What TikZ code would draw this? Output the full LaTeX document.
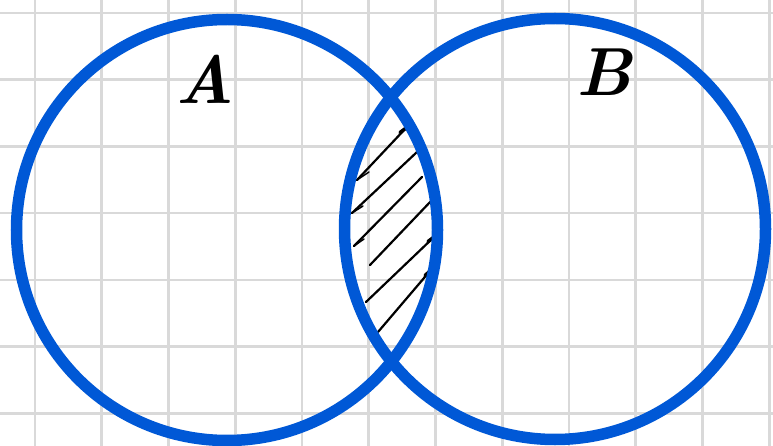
\documentclass[tikz,border=0pt]{standalone}
\usepackage{fontspec}
\definecolor{vennblue}{RGB}{0,88,214}
\definecolor{gridgray}{RGB}{217,217,217}
\begin{document}
\begin{tikzpicture}[x=1pt,y=-1pt,
  gridline/.style={draw=gridgray,line width=2.6pt},
  setcircle/.style={circle,draw=vennblue,line width=11.5pt,minimum size=421pt,inner sep=0pt},
  setlabel/.style={font=\fontsize{68}{68}\selectfont\bfseries\itshape,inner sep=0pt},
  hatch/.style={draw=black,line width=2.2pt,line cap=round},
  hook/.style={draw=black,line width=1.5pt,line cap=round}]
\useasboundingbox (0,0) rectangle (773,446);
\fill[white] (0,0) rectangle (773,446);
\foreach \i in {0,...,11} {
  \draw[gridline] ({35+66.75*\i},0) -- ({35+66.75*\i},446);
}
\foreach \j in {0,...,6} {
  \draw[gridline] (0,{13+66.7*\j}) -- (773,{13+66.7*\j});
}
% hatching of the intersection
\coordinate (h1a) at (357,180); \coordinate (h1b) at (406,128);
\coordinate (h2a) at (352,213); \coordinate (h2b) at (417,152);
\coordinate (h3a) at (354,246); \coordinate (h3b) at (422,177);
\coordinate (h4a) at (370,265); \coordinate (h4b) at (432,200);
\coordinate (h5a) at (366,302); \coordinate (h5b) at (434,237);
\coordinate (h6a) at (378,332); \coordinate (h6b) at (430,271);
\foreach \k in {1,...,6} {
  \draw[hatch] (h\k a) -- (h\k b);
}
\draw[hook] (h1a) -- ++(12,-8);
\draw[hook] (h2a) -- ++(11,-7);
\draw[hook] (h3a) -- ++(10,-7);
\draw[line width=3.5pt,line cap=round] (h1b) -- ++(-6,4.5);
\draw[line width=3.5pt,line cap=round] (h5b) -- ++(-6,4.5);
\draw[line width=3.5pt,line cap=round] (h6b) -- ++(-5,4.5);
% the two sets
\node[setcircle] (circA) at (227,230) {};
\node[setcircle] (circB) at (555,229) {};
\node[setlabel] (labA) at (205,79) {A};
\node[setlabel] (labB) at (604,72) {B};
\end{tikzpicture}
\end{document}
